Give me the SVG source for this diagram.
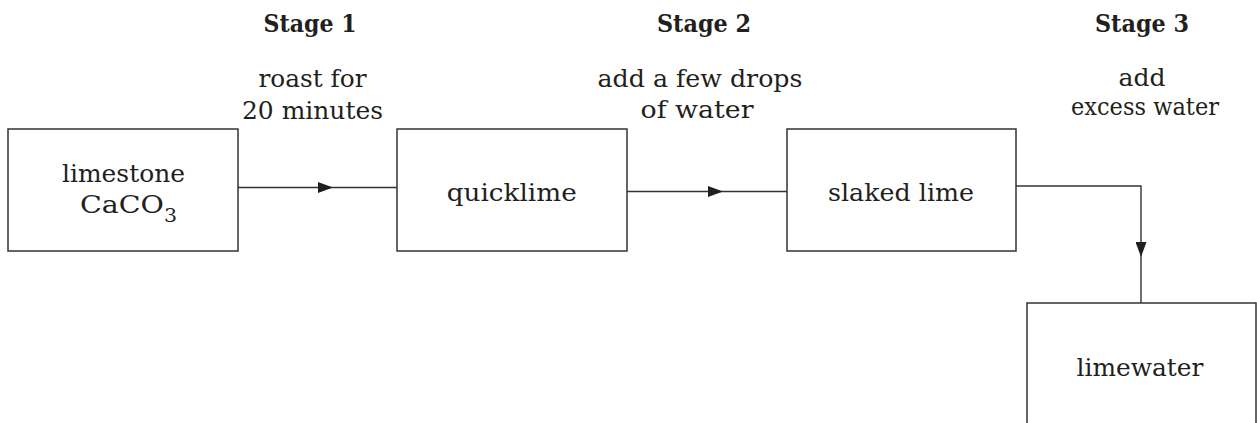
<svg xmlns="http://www.w3.org/2000/svg" width="1257" height="423" viewBox="0 0 1257 423">
  <style>
    .box { fill: #ffffff; stroke: #333333; stroke-width: 1.5; }
    .line { fill: none; stroke: #333333; stroke-width: 1.4; }
    text { font-family: "DejaVu Serif", "Liberation Serif", serif; font-size: 25px; fill: #231f20; }
    .c { text-anchor: middle; }
    .b { font-weight: bold; }
  </style>
  <defs>
    <marker id="arrow" viewBox="0 0 15 11" refX="15" refY="5.5" markerUnits="userSpaceOnUse" markerWidth="15" markerHeight="11" orient="auto">
      <path d="M0,0 L15,5.5 L0,11 z" fill="#231f20"/>
    </marker>
  </defs>
  <rect width="1257" height="423" fill="#ffffff"/>

  <g id="labels">
    <text class="c b" x="310" y="32" textLength="93" lengthAdjust="spacingAndGlyphs">Stage 1</text>
    <text class="c b" x="704" y="32" textLength="94" lengthAdjust="spacingAndGlyphs">Stage 2</text>
    <text class="c b" x="1142" y="32" textLength="94" lengthAdjust="spacingAndGlyphs">Stage 3</text>
    <text class="c" x="312.5" y="87" textLength="108" lengthAdjust="spacingAndGlyphs">roast for</text>
    <text class="c" x="312.5" y="119" textLength="141" lengthAdjust="spacingAndGlyphs">20 minutes</text>
    <text class="c" x="700" y="87" textLength="205" lengthAdjust="spacingAndGlyphs">add a few drops</text>
    <text class="c" x="697" y="118" textLength="113" lengthAdjust="spacingAndGlyphs">of water</text>
    <text class="c" x="1142" y="86" textLength="47" lengthAdjust="spacingAndGlyphs">add</text>
    <text class="c" x="1145" y="115" textLength="148" lengthAdjust="spacingAndGlyphs">excess water</text>
  </g>

  <g id="connectors">
    <path class="line" d="M238,187.5 H333" marker-end="url(#arrow)"/>
    <path class="line" d="M333,187.5 H397"/>
    <path class="line" d="M627,191.5 H723" marker-end="url(#arrow)"/>
    <path class="line" d="M723,191.5 H787"/>
    <path class="line" d="M1016,186 H1141 V257" marker-end="url(#arrow)"/>
    <path class="line" d="M1141,257 V303"/>
  </g>

  <g id="limestone">
    <rect class="box" x="8" y="129" width="230" height="122"/>
    <text class="c" x="123.5" y="182" textLength="123" lengthAdjust="spacingAndGlyphs">limestone</text>
    <text x="80" y="213" textLength="97" lengthAdjust="spacingAndGlyphs">CaCO<tspan font-size="18" dy="9">3</tspan></text>
  </g>

  <g id="quicklime">
    <rect class="box" x="397" y="129" width="230" height="122"/>
    <text class="c" x="511.7" y="201" textLength="130" lengthAdjust="spacingAndGlyphs">quicklime</text>
  </g>

  <g id="slaked-lime">
    <rect class="box" x="787" y="129" width="229" height="122"/>
    <text class="c" x="901" y="201" textLength="146" lengthAdjust="spacingAndGlyphs">slaked lime</text>
  </g>

  <g id="limewater">
    <rect class="box" x="1027" y="303" width="229" height="140"/>
    <text class="c" x="1140" y="376" textLength="127" lengthAdjust="spacingAndGlyphs">limewater</text>
  </g>
</svg>
